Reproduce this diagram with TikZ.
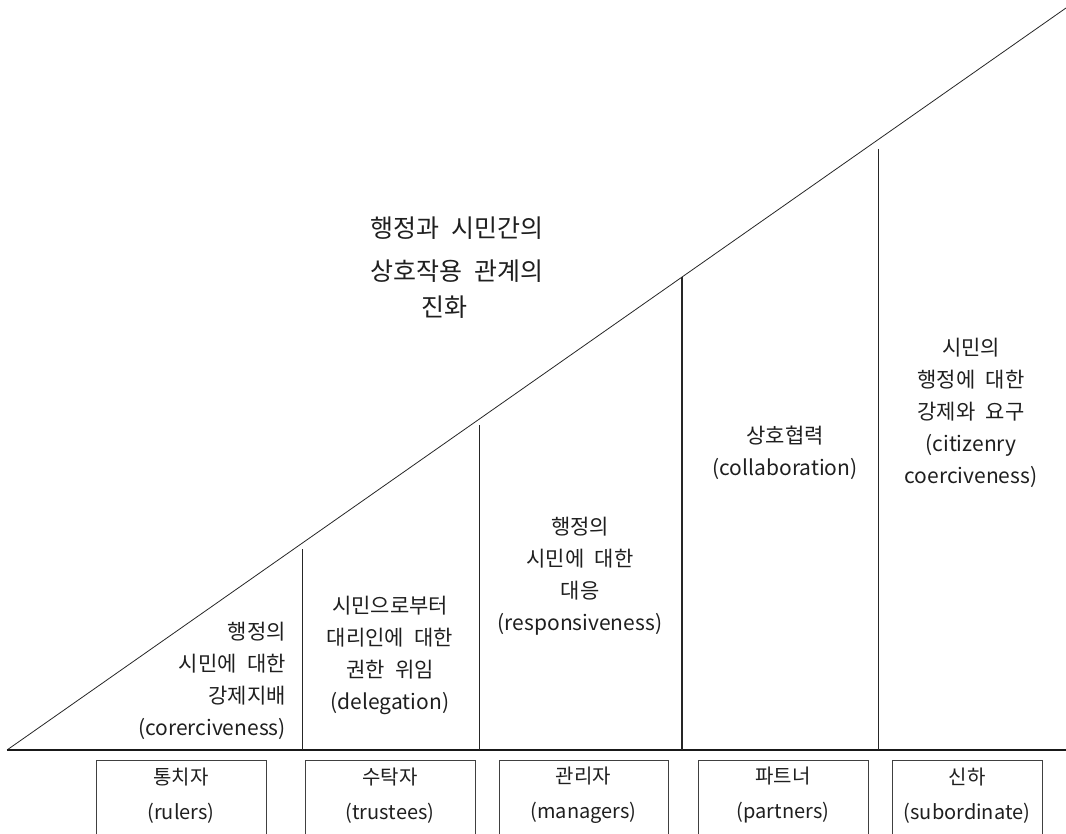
\documentclass[tikz,border=0pt]{standalone}
\usepackage{fontspec}
\setmainfont[WordSpace=2.2]{Noto Sans CJK KR}
\begin{document}
\begin{tikzpicture}[x=1pt,y=-1pt,
  txt/.style={font=\fontsize{21}{32}\selectfont, inner sep=0pt, text=black!88},
  btxt/.style={font=\fontsize{20}{35}\selectfont, inner sep=0pt, text=black!88, align=center},
  ttl/.style={font=\fontsize{25}{40}\selectfont, inner sep=0pt, text=black!88},
  ln/.style={line width=0.8pt, draw=black!85},
  boxline/.style={line width=0.7pt, draw=black!75}]
\useasboundingbox (0,0) rectangle (1066,834);
% main triangle
\coordinate (A) at (7,750);
\coordinate (B) at (1066,8);
\coordinate (E) at (1066,750);
\draw[ln] (A) -- (B);
\draw[line width=1.2pt, draw=black!90] (A) -- (E);
% vertical dividers
\coordinate (v1t) at (302,549); \coordinate (v1b) at (302,750);
\coordinate (v2t) at (479,425); \coordinate (v2b) at (479,750);
\coordinate (v3t) at (682,277); \coordinate (v3b) at (682,750);
\coordinate (v4t) at (878,149); \coordinate (v4b) at (878,750);
\draw[ln] (v1t) -- (v1b);
\draw[ln] (v2t) -- (v2b);
\draw[line width=1.4pt, draw=black!85] (v3t) -- (v3b);
\draw[ln] (v4t) -- (v4b);
% title
\node[ttl] (t1) at (457,228) {행정과 시민간의};
\node[ttl] (t2) at (457,271) {상호작용 관계의};
\node[ttl] (t3) at (444,307) {진화};
% stage texts
\node[txt, anchor=east, align=right] (s1) at (286,681) {행정의\\시민에 대한\\강제지배\\(corerciveness)};
\node[txt, align=center] (s2) at (390,655) {시민으로부터\\대리인에 대한\\권한 위임\\(delegation)};
\node[txt, align=center] (s3) at (580,576) {행정의\\시민에 대한\\대응\\(responsiveness)};
\node[txt, align=center] (s4) at (785,453) {상호협력\\(collaboration)};
\node[txt, align=center] (s5) at (971,413) {시민의\\행정에 대한\\강제와 요구\\(citizenry\\coerciveness)};
% bottom boxes (open at the bottom edge)
\draw[boxline] (96,845) -- (96,760) -- (266,760) -- (266,845);
\draw[boxline] (305,845) -- (305,760) -- (475,760) -- (475,845);
\draw[boxline] (499,845) -- (499,760) -- (668,760) -- (668,845);
\draw[boxline] (698,845) -- (698,760) -- (868,760) -- (868,845);
\draw[boxline] (892,845) -- (892,760) -- (1042,760) -- (1042,845);
\node[btxt] (b1) at (181,795.5) {통치자\\(rulers)};
\node[btxt] (b2) at (390,795.5) {수탁자\\(trustees)};
\node[btxt] (b3) at (583.5,795.5) {관리자\\(managers)};
\node[btxt] (b4) at (783,795.5) {파트너\\(partners)};
\node[btxt] (b5) at (967,795.5) {신하\\(subordinate)};
\end{tikzpicture}
\end{document}
